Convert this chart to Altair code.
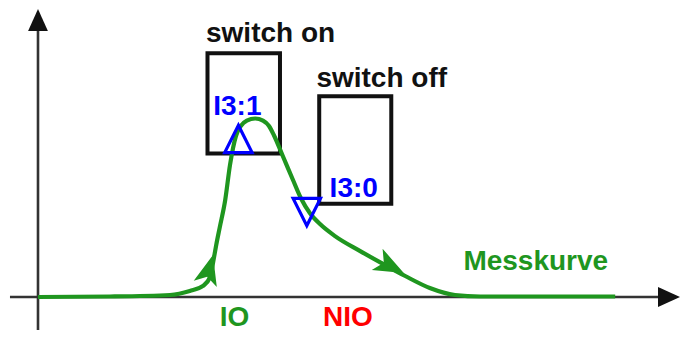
import altair as alt
import pandas as pd

# ---- data (time t, signal s) ----
curve_t = [0, 12, 22, 25.3, 27.5, 28.7, 29.2, 29.7, 30.3, 31.2, 32, 33, 33.8, 34.8,
           36.2, 37.5, 38.5, 39.3, 40.8, 42.5, 43.8, 45.3, 47, 49.5, 53.7, 57.8,
           61.2, 65.3, 69.5, 73.7, 96.2]
curve_s = [0, 0.17, 0.67, 2, 3.7, 6.7, 11.7, 17.3, 23.3, 32.3, 44, 53.7, 57, 58.8,
           59.5, 58.8, 57, 54, 47, 39, 33, 28, 24.3, 20.3, 15.3, 10.7,
           7, 3, 0.67, 0.17, 0.17]

win_name = ["switch on", "switch off"]
win_t0 = [28.25, 46.87]
win_t1 = [40.33, 58.88]
win_s0 = [47.83, 31.07]
win_s1 = [81.23, 66.93]

on_t, on_s = [33.4], [52.7]      # I3:1 trigger point
off_t, off_s = [44.8], [28.3]    # I3:0 trigger point

arrow1_t, arrow1_s = [28.45], [8.63]
arrow2_t, arrow2_s = [58.5], [10.53]

black_text = ["switch on", "switch off"]
black_t = [28.0, 46.4]
black_s = [85.1, 70.1]

blue_text = ["I3:1", "I3:0"]
blue_t = [29.2, 48.6]
blue_s = [60.67, 33.4]

green_text = ["Messkurve", "IO"]
green_t = [70.9, 30.3]
green_s = [9.0, -9.67]

red_text = ["NIO"]
red_t = [47.5]
red_s = [-9.67]

axis_t = [-4.67, 0]
axis_t2 = [104.5, 0]
axis_s = [0, -11]
axis_s2 = [0, 89]

head_t = [105.17, 0]
head_s = [0, 92.33]

# ---- scales ----
XS = alt.Scale(domain=[-5, 107.1667], nice=False, zero=False)
YS = alt.Scale(domain=[-12, 96.3333], nice=False, zero=False)


def X(f="t"):
    return alt.X(f"{f}:Q", scale=XS, axis=None)


def Y(f="s"):
    return alt.Y(f"{f}:Q", scale=YS, axis=None)


GREEN = "#1f961f"
FONT = "Liberation Sans"

axes_df = pd.DataFrame({"t": axis_t, "t2": axis_t2, "s": axis_s, "s2": axis_s2})
axes = alt.Chart(axes_df).mark_rule(color="#333333", strokeWidth=2.6).encode(
    x=X(), x2="t2:Q", y=Y(), y2="s2:Q")

TRI = "M0,-1L0.9,1L-0.9,1Z"
xhead = alt.Chart(pd.DataFrame({"t": head_t[:1], "s": head_s[:1]})).mark_point(
    shape=TRI, size=484, filled=True, color="#111111", opacity=1, angle=90
).encode(x=X(), y=Y())
yhead = alt.Chart(pd.DataFrame({"t": head_t[1:], "s": head_s[1:]})).mark_point(
    shape=TRI, size=484, filled=True, color="#111111", opacity=1, angle=0
).encode(x=X(), y=Y())

win_df = pd.DataFrame({"name": win_name, "t0": win_t0, "t1": win_t1,
                       "s0": win_s0, "s1": win_s1})
windows = alt.Chart(win_df).mark_rect(fill=None, fillOpacity=0, stroke="#111111",
                                      strokeWidth=4).encode(
    x=X("t0"), x2="t1:Q", y=Y("s0"), y2="s1:Q")

curve_df = pd.DataFrame({"t": curve_t, "s": curve_s})
curve = alt.Chart(curve_df).mark_line(color=GREEN, strokeWidth=4.2,
                                      interpolate="monotone").encode(
    x=X(), y=Y(), order="t:Q")

ARROW = "M0,-1L0.72,0.8L0,0.35L-0.72,0.8Z"
a1 = alt.Chart(pd.DataFrame({"t": arrow1_t, "s": arrow1_s})).mark_point(
    shape=ARROW, size=1100, filled=True, color=GREEN, opacity=1, angle=15
).encode(x=X(), y=Y())
a2 = alt.Chart(pd.DataFrame({"t": arrow2_t, "s": arrow2_s})).mark_point(
    shape=ARROW, size=1100, filled=True, color=GREEN, opacity=1, angle=117
).encode(x=X(), y=Y())

tri_up = alt.Chart(pd.DataFrame({"t": on_t, "s": on_s})).mark_point(
    shape="M0,-1L1,1L-1,1Z", size=750, filled=False, color="#0000ff",
    strokeWidth=3.2, opacity=1
).encode(x=X(), y=Y())
tri_down = alt.Chart(pd.DataFrame({"t": off_t, "s": off_s})).mark_point(
    shape="M0,1L1,-1L-1,-1Z", size=750, filled=False, color="#0000ff",
    strokeWidth=3.2, opacity=1
).encode(x=X(), y=Y())


def labels(texts, ts, ss, color):
    df = pd.DataFrame({"label": texts, "t": ts, "s": ss})
    return alt.Chart(df).mark_text(
        align="left", baseline="alphabetic", font=FONT, fontSize=28,
        fontWeight="bold", color=color
    ).encode(x=X(), y=Y(), text="label:N")


chart = alt.layer(
    axes, xhead, yhead, windows, curve, a1, a2, tri_up, tri_down,
    labels(black_text, black_t, black_s, "#111111"),
    labels(blue_text, blue_t, blue_s, "#0000ff"),
    labels(green_text, green_t, green_s, GREEN),
    labels(red_text, red_t, red_s, "#ff0000"),
).properties(
    width=673, height=325, padding=0, background="white",
    autosize=alt.AutoSizeParams(type="none")
).configure_view(stroke=None)

chart.save("out.html", embed_options={"renderer": "svg", "actions": False})
